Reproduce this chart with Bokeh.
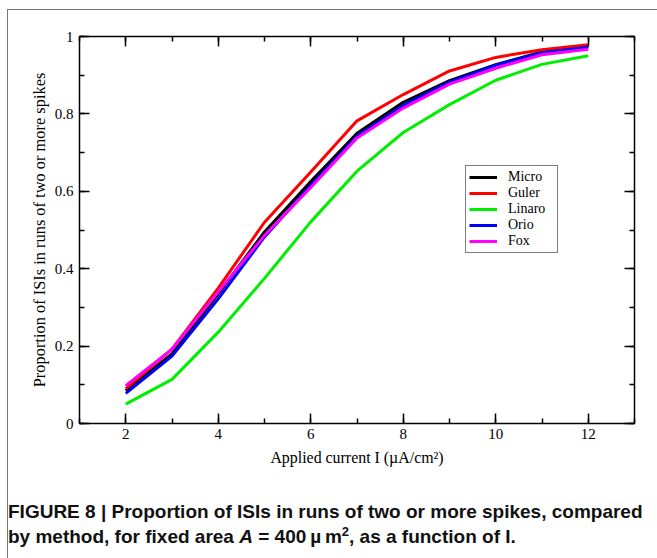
from bokeh.plotting import figure
from bokeh.models import (LinearAxis, SingleIntervalTicker, Legend, LegendItem,
                          CustomJSTickFormatter, Div, Range1d, Spacer)
from bokeh.layouts import column, row
from bokeh.embed import file_html
from bokeh.resources import INLINE

# ---- data ----
current = [2, 3, 4, 5, 6, 7, 8, 9, 10, 11, 12]
micro  = [0.085, 0.180, 0.335, 0.495, 0.625, 0.750, 0.830, 0.886, 0.927, 0.960, 0.974]
guler  = [0.090, 0.192, 0.350, 0.520, 0.650, 0.782, 0.850, 0.911, 0.946, 0.966, 0.979]
linaro = [0.050, 0.114, 0.236, 0.375, 0.521, 0.652, 0.752, 0.824, 0.887, 0.928, 0.950]
orio   = [0.078, 0.174, 0.322, 0.482, 0.615, 0.742, 0.822, 0.882, 0.926, 0.958, 0.972]
fox    = [0.098, 0.192, 0.340, 0.486, 0.610, 0.738, 0.815, 0.877, 0.918, 0.953, 0.967]
series_names = ["Micro", "Guler", "Linaro", "Orio", "Fox"]
series_vals = [micro, guler, linaro, orio, fox]
series_colors = ["#000000", "#ff0000", "#00ee00", "#0000ff", "#ff00ff"]

x_title = "Applied current I (\u00b5A/cm\u00b2)"
y_title = "Proportion of ISIs in runs of two or more spikes"

SERIF = "Liberation Serif"

p = figure(width=641, height=464, output_backend="svg", toolbar_location=None,
           x_range=Range1d(1, 13), y_range=Range1d(0, 1),
           x_axis_location=None, y_axis_location=None,
           min_border_left=71, min_border_right=15, min_border_top=26, min_border_bottom=51)
p.outline_line_color = None
p.xgrid.visible = False
p.ygrid.visible = False
p.background_fill_color = "white"
p.border_fill_color = "white"

def style_axis(ax, labels=True):
    ax.axis_line_width = 1.5
    ax.axis_line_color = "black"
    ax.major_tick_in = 10
    ax.major_tick_out = 0
    ax.minor_tick_in = 5
    ax.minor_tick_out = 0
    ax.major_tick_line_width = 1.5
    ax.minor_tick_line_width = 1.5
    ax.major_label_text_font = SERIF
    ax.major_label_text_font_size = "15px"
    ax.major_label_text_color = "black"
    ax.axis_label_text_font = SERIF
    ax.axis_label_text_font_size = "15.9px"
    ax.axis_label_text_font_style = "normal"
    ax.axis_label_text_color = "black"
    if not labels:
        ax.formatter = CustomJSTickFormatter(code="return ''")
        ax.major_label_standoff = 0

xt = lambda: SingleIntervalTicker(interval=2, num_minor_ticks=2)
yt = lambda: SingleIntervalTicker(interval=0.2, num_minor_ticks=2)

xb = LinearAxis(ticker=xt(), axis_label=x_title)
style_axis(xb)
xb.major_label_standoff = 5
xb.axis_label_standoff = 7
p.add_layout(xb, "below")

xa = LinearAxis(ticker=xt())
style_axis(xa, labels=False)
p.add_layout(xa, "above")

yl = LinearAxis(ticker=yt(), axis_label=y_title)
style_axis(yl)
yl.axis_label_text_font_size = "16.4px"
yl.major_label_standoff = 6
yl.axis_label_standoff = 3
yl.major_label_overrides = {0: "0", 1: "1"}
p.add_layout(yl, "left")

yr = LinearAxis(ticker=yt())
style_axis(yr, labels=False)
p.add_layout(yr, "right")

items = []
for name, vals, col in zip(series_names, series_vals, series_colors):
    r = p.line(current, vals, line_color=col, line_width=3)
    items.append(LegendItem(label=name, renderers=[r]))

legend = Legend(items=items, location=(386, 170))
legend.label_text_font = SERIF
legend.label_text_font_size = "14px"
legend.label_text_color = "black"
legend.glyph_width = 28
legend.glyph_height = 14
legend.label_height = 14
legend.label_width = 46
legend.label_standoff = 11
legend.spacing = -4
legend.padding = 3
legend.margin = 0
legend.border_line_color = "black"
legend.border_line_width = 1.2
legend.background_fill_alpha = 1
p.add_layout(legend, "center")

caption = Div(
    text=("<div style='margin-left:-5px'>FIGURE 8 | Proportion of ISIs in runs of two or more spikes, compared<br>"
          "by method, for fixed area <i>A</i> = 400\u2009\u00b5\u2009m"
          "<sup style='font-size:13px; line-height:0'>2</sup>, as a function of I.</div>"),
    width=641, height=80,
    styles={"font-family": "Liberation Sans", "font-weight": "bold", "font-size": "19px",
            "line-height": "25px", "padding-top": "20px", "color": "#111111",
            "box-sizing": "border-box", "white-space": "nowrap"})

inner = column(p, caption, spacing=0,
               styles={"border-left": "1px solid #777777", "border-top": "1px solid #777777"})
layout = row(Spacer(width=7), column(Spacer(height=9), inner, spacing=0), spacing=0)

open("out.html", "w").write(file_html(layout, INLINE))
